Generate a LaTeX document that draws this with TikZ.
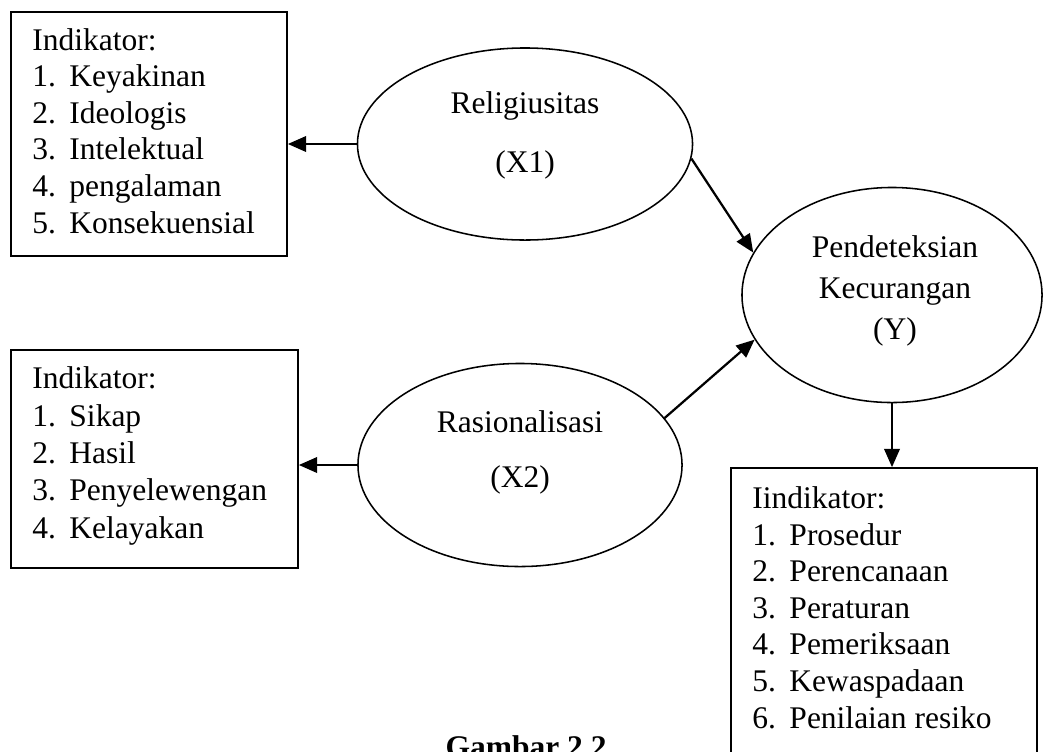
\documentclass[tikz,border=0pt]{standalone}
\usepackage{fontspec}
\setmainfont{Liberation Serif}
\usetikzlibrary{arrows.meta,shapes.geometric,fit}

\newcommand{\itm}[2]{\makebox[0.93cm][l]{#1}#2}

\tikzset{
  indbox/.style={draw, line width=1.2pt, inner sep=0pt},
  indtext/.style={anchor=base west, align=left, inner sep=0pt, font=\fontsize{22.4}{26}\selectfont},
  latent/.style={draw, ellipse, line width=1.1pt, inner sep=0pt},
  lbl/.style={anchor=base, inner sep=0pt, font=\fontsize{22.4}{26}\selectfont},
  arr/.style={-{Triangle[length=13pt,width=11pt]}, line width=1.6pt}
}

\begin{document}
\begin{tikzpicture}[x=0.025cm, y=-0.025cm]
	\useasboundingbox (0,0) rectangle (1043,751);
	
	%indicator boxes (text placed at the baseline of its last line)
	\node[indbox, fit={(11,12) (287,256)}] (box1) {};
	\node[indtext] (ind1) at (32,233) {Indikator:\\ \itm{1.}{Keyakinan}\\ \itm{2.}{Ideologis}\\ \itm{3.}{Intelektual}\\ \itm{4.}{pengalaman}\\ \itm{5.}{Konsekuensial}};
	
	\node[indbox, fit={(11,350) (298,568)}] (box2) {};
	\node[indtext, font=\fontsize{22.4}{26.5}\selectfont] (ind2) at (32,538) {Indikator:\\ \itm{1.}{Sikap}\\ \itm{2.}{Hasil}\\ \itm{3.}{Penyelewengan}\\ \itm{4.}{Kelayakan}};
	
	\node[indbox, fit={(731,468) (1037,765)}] (box3) {};
	\node[indtext] (ind3) at (752,728) {Iindikator:\\ \itm{1.}{Prosedur}\\ \itm{2.}{Perencanaan}\\ \itm{3.}{Peraturan}\\ \itm{4.}{Pemeriksaan}\\ \itm{5.}{Kewaspadaan}\\ \itm{6.}{Penilaian resiko}};
	
	%latent variables
	\node[latent, minimum width=8.375cm, minimum height=4.8cm] (x1) at (525,144) {};
	\node[lbl] (x1name) at (525,113) {Religiusitas};
	\node[lbl] (x1sym) at (525,172) {(X1)};
	
	\node[latent, minimum width=8.1cm, minimum height=5.075cm] (x2) at (520,465) {};
	\node[lbl] (x2name) at (520,432) {Rasionalisasi};
	\node[lbl] (x2sym) at (520,487) {(X2)};
	
	\node[latent, minimum width=7.5cm, minimum height=5.375cm] (y) at (892,295) {};
	\node[lbl] (yname) at (895,257) {Pendeteksian};
	\node[lbl] (ykec) at (895,298) {Kecurangan};
	\node[lbl] (ysym) at (895,339) {(Y)};
	
	%arrows
	\draw[arr] (x1.west) -- (x1.west -| box1.east);
	\draw[arr] (x2.west) -- (x2.west -| box2.east);
	\draw[arr] (x1.-5) -- (y.163);
	\draw[arr] (x2.18) -- (y.198);
	\draw[arr] (y.south) -- (y.south |- box3.north);
	
	\node[lbl, font=\fontsize{22.4}{26}\selectfont\bfseries] (caption) at (526,757) {Gambar 2.2};
\end{tikzpicture}
\end{document}
